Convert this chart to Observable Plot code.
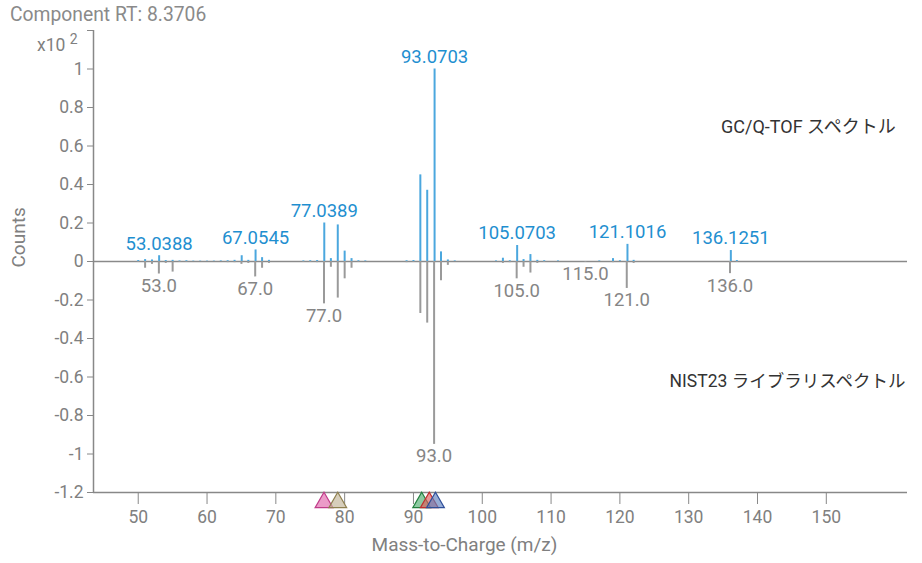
<!DOCTYPE html>
<html><head><meta charset="utf-8">
<script src="https://cdn.jsdelivr.net/npm/d3@7"></script>
<script src="https://cdn.jsdelivr.net/npm/@observablehq/plot@0.6"></script>
<style>
body{margin:0;background:#fff;}
#wrap{position:relative;width:922px;height:563px;font-family:Roboto,"Noto Sans CJK JP",sans-serif;}
#title{position:absolute;left:10px;top:4px;font-size:19.3px;color:#8a8a8a;white-space:nowrap;line-height:22px;}
#chart{position:absolute;left:0;top:0;}
</style></head><body>
<div id="wrap"><div id="chart"></div><div id="title">Component RT: 8.3706</div></div>
<script>
// GC/Q-TOF sample spectrum (upper, x10^2 counts)
const sampleMz  = [50, 51, 52, 53.0388, 54, 55, 56, 57, 58, 59, 60, 61, 62, 63, 64, 65.0389, 66, 67.0545, 68, 69,
                   74, 75, 76, 77.0389, 78, 79, 80, 81, 82, 83, 89, 90, 91, 92, 93.0703, 94, 95, 96,
                   102, 103, 104, 105.0703, 106, 107, 108, 109, 111, 117, 119, 120, 121.1016, 122, 136.1251, 137];
const sampleInt = [0.005, 0.01, 0.008, 0.03, 0.005, 0.006, 0.003, 0.004, 0.002, 0.002, 0.002, 0.002, 0.003, 0.004, 0.006, 0.03, 0.006, 0.06, 0.02, 0.006,
                   0.003, 0.004, 0.005, 0.2, 0.015, 0.19, 0.054, 0.015, 0.004, 0.003, 0.004, 0.005, 0.45, 0.37, 1.0, 0.05, 0.008, 0.003,
                   0.003, 0.017, 0.004, 0.083, 0.01, 0.036, 0.006, 0.004, 0.003, 0.003, 0.015, 0.004, 0.089, 0.006, 0.057, 0.005];
const sampleLabeledMz = [53.0388, 67.0545, 77.0389, 93.0703, 105.0703, 121.1016, 136.1251];

// NIST23 library spectrum (lower, mirrored)
const libMz  = [50, 51, 52, 53, 54, 55, 56, 57, 63, 64, 65, 66, 67, 68, 69, 74, 75, 76, 77, 78, 79, 80, 81, 82,
                89, 90, 91, 92, 93, 94, 95, 103, 104, 105, 106, 107, 108, 109, 115, 119, 121, 122, 136, 137];
const libInt = [-0.005, -0.035, -0.015, -0.065, -0.01, -0.055, -0.005, -0.004, -0.006, -0.006, -0.015, -0.01, -0.08, -0.035, -0.01, -0.004, -0.005, -0.006, -0.22, -0.03, -0.19, -0.09, -0.035, -0.004,
                -0.006, -0.005, -0.27, -0.32, -0.95, -0.10, -0.02, -0.01, -0.006, -0.09, -0.03, -0.06, -0.01, -0.005, -0.005, -0.006, -0.14, -0.01, -0.063, -0.005];
const libLabeledMz = [53, 67, 77, 93, 105, 115, 121, 136];

// component markers along the m/z axis
const markerMz = [77.0, 79.0, 91.2, 92.3, 93.2];
const markerFill = ["#e066aa", "#c2b396", "#4fae6e", "#e05a5a", "#5d7fbf"];
const markerStroke = ["#c03c8a", "#8f8050", "#23803f", "#c03030", "#2f4f9a"];

const xTicks = [50, 60, 70, 80, 90, 100, 110, 120, 130, 140, 150];
const yTicks = [-1.2, -1, -0.8, -0.6, -0.4, -0.2, 0, 0.2, 0.4, 0.6, 0.8, 1, 1.2];
const yTickLabels = ["-1.2", "-1", "-0.8", "-0.6", "-0.4", "-0.2", "0", "0.2", "0.4", "0.6", "0.8", "1", ""];

const sample = sampleMz.map((mz, i) => ({mz, v: sampleInt[i]}));
const lib = libMz.map((mz, i) => ({mz, v: libInt[i]}));
const sampleLab = sample.filter(d => sampleLabeledMz.includes(d.mz));
const libLab = lib.filter(d => libLabeledMz.includes(d.mz));
const markers = markerMz.map((mz, i) => ({mz, i}));

const X0 = 43.5, X1 = 161.8;
const font = "Roboto, 'Noto Sans CJK JP', sans-serif";

const plot = Plot.plot({
  width: 922, height: 563,
  marginLeft: 93, marginRight: 15, marginTop: 30, marginBottom: 71,
  style: {fontFamily: font, fontSize: "17.5px", color: "#808080", background: "transparent"},
  x: {domain: [X0, X1]},
  y: {domain: [-1.2, 1.2]},
  marks: [
    Plot.ruleY([0], {stroke: "#8a8a8a", strokeWidth: 1.5}),
    Plot.ruleX(sample, {x: "mz", y1: 0, y2: "v", stroke: "#4ba7de", strokeWidth: 2}),
    Plot.ruleX(lib, {x: "mz", y1: 0, y2: "v", stroke: "#9a9a9a", strokeWidth: 2}),
    Plot.text(sampleLab, {x: "mz", y: "v", text: d => d.mz.toFixed(4), dy: -12, fill: "#1f8fd0", fontSize: 18.5}),
    Plot.text(libLab, {x: "mz", y: "v", text: d => d.mz.toFixed(1), dy: 12, fill: "#858585", fontSize: 18.5}),
    Plot.axisX({ticks: xTicks, tickSize: 12, tickPadding: 6, label: null, stroke: "#888", tickFormat: d => String(d)}),
    Plot.axisY({ticks: yTicks, tickSize: 6, tickPadding: 4, label: null, stroke: "#888",
      tickFormat: d => yTickLabels[yTicks.findIndex(t => Math.abs(t - d) < 1e-9)]}),
    Plot.ruleX([X0], {y1: -1.2, y2: 1.2, stroke: "#888", strokeWidth: 1.5}),
    Plot.ruleY([-1.2], {x1: X0, x2: X1, stroke: "#888", strokeWidth: 1.5}),
    Plot.dot(markers, {x: "mz", y: -1.2, dy: 10, symbol: "triangle", r: 6.6,
      fill: d => markerFill[d.i], stroke: d => markerStroke[d.i], fillOpacity: 0.65, strokeWidth: 1.2}),
    Plot.text(["GC/Q-TOF スペクトル"], {x: 160.1, y: 0.696, textAnchor: "end", fill: "#333", fontSize: 18}),
    Plot.text(["NIST23 ライブラリスペクトル"], {x: 161.5, y: -0.624, textAnchor: "end", fill: "#333", fontSize: 17.5}),
    Plot.text(["Mass-to-Charge (m/z)"], {frameAnchor: "bottom", dx: -36, dy: 58, fill: "#808080", fontSize: 19}),
    Plot.text(["Counts"], {frameAnchor: "left", dx: -75, dy: 6, rotate: -90, fill: "#808080", fontSize: 19})
  ]
});
document.getElementById("chart").appendChild(plot);

// "x10 ²" exponent label at the top of the y axis
const svg = d3.select(plot);
const t = svg.append("text").attr("x", 37).attr("y", 51).attr("text-anchor", "start")
  .attr("fill", "#808080").attr("font-family", font).attr("font-size", 17.5);
t.append("tspan").text("x10 ");
t.append("tspan").attr("dy", -7).attr("font-size", 14).text("2");
</script>
</body></html>
